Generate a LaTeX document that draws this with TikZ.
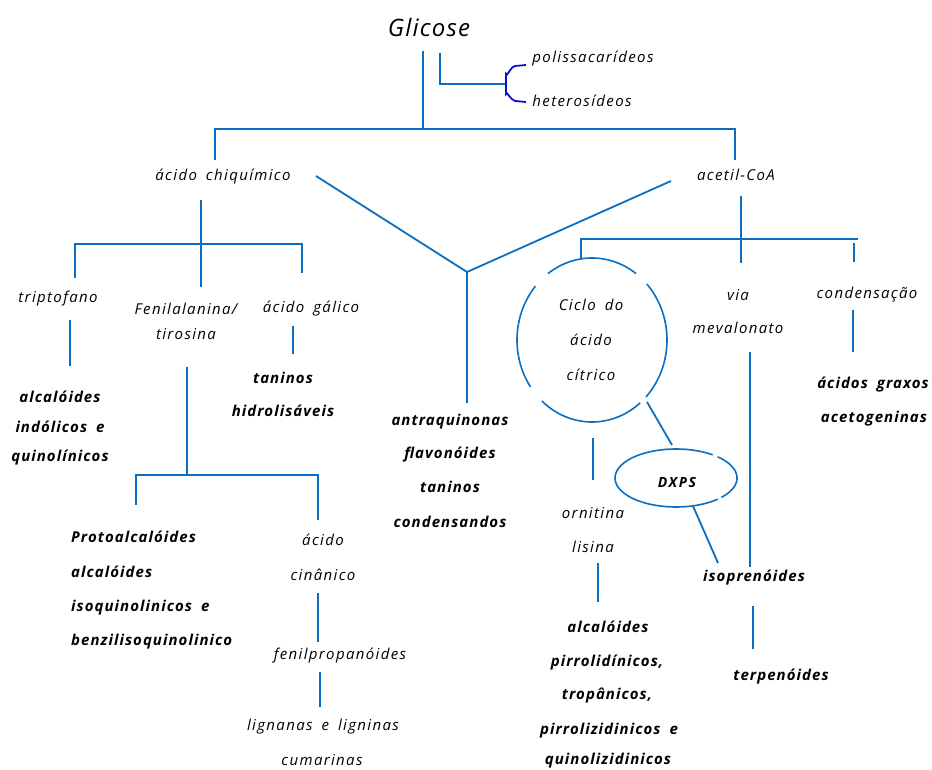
\documentclass[tikz,border=0pt]{standalone}
\usepackage{fontspec}
\setmainfont{Open Sans}
\newfontfamily\hand{Open Sans}[LetterSpace=9]
\newfontfamily\handb{Open Sans}[LetterSpace=7]
\newfontfamily\handg{Open Sans}[LetterSpace=5]
\newfontfamily\handd{Open Sans}[LetterSpace=12]
\usetikzlibrary{shapes.geometric}
\definecolor{ln}{HTML}{0A6FC2}
\definecolor{br}{HTML}{0A10D0}
\newcommand\wsp{\hspace{0.6em}}
\begin{document}
\begin{tikzpicture}[x=1pt,y=-1pt,
 lk/.style={draw=ln,line width=1.8pt},
 tx/.style={font=\hand\fontsize{15}{17}\selectfont\itshape,inner sep=0pt,anchor=mid,yshift=-3pt},
 bt/.style={font=\handb\fontsize{15}{17}\selectfont\bfseries\itshape,inner sep=0pt,anchor=mid,yshift=-3pt},
 btl/.style={bt,anchor=mid west}]
\useasboundingbox (0,0) rectangle (932,770);
% texts
\node[tx,font=\handg\fontsize{24}{28}\selectfont\itshape,yshift=-2pt] (glc) at (429,29) {Glicose};
\node[tx] (pol) at (593,57) {polissacarídeos};
\node[tx] (het) at (582,101) {heterosídeos};
\node[tx] (chq) at (223,175) {ácido\wsp chiquímico};
\node[tx] (acc) at (736,175) {acetil-CoA};
\node[tx] (trp) at (58,297) {triptofano};
\node[tx] (fen) at (186,309) {Fenilalanina/};
\node[tx] (tir) at (186,334) {tirosina};
\node[tx] (gal) at (311,307) {ácido\wsp gálico};
\node[bt] (ai1) at (60,397) {alcalóides};
\node[bt] (ai2) at (60,427) {indólicos\wsp e};
\node[bt] (ai3) at (60,456) {quinolínicos};
\node[bt] (tn1) at (283,378) {taninos};
\node[bt] (tn2) at (283,411) {hidrolisáveis};
\node[bt] (an1) at (450,420) {antraquinonas};
\node[bt] (an2) at (450,453) {flavonóides};
\node[bt] (an3) at (450,487) {taninos};
\node[bt] (an4) at (450,522) {condensandos};
\node[tx] (cc1) at (591,305) {Ciclo\wsp do};
\node[tx] (cc2) at (591,340) {ácido};
\node[tx] (cc3) at (591,375) {cítrico};
\node[tx] (via) at (738,295) {via};
\node[tx] (mev) at (738,328) {mevalonato};
\node[tx] (cnd) at (867,293) {condensação};
\node[bt] (ag1) at (873,383) {ácidos\wsp graxos};
\node[bt] (ag2) at (874,417) {acetogeninas};
\node[bt,font=\handd\fontsize{14}{16}\selectfont\bfseries\itshape] (dxt) at (677,482) {DXPS};
\node[tx] (orn) at (593,513) {ornitina};
\node[tx] (lis) at (593,547) {lisina};
\node[bt] (iso) at (754,576) {isoprenóides};
\node[bt] (ter) at (781,675) {terpenóides};
\node[bt] (ap1) at (608,627) {alcalóides};
\node[bt] (ap2) at (607,661) {pirrolidínicos,};
\node[bt] (ap3) at (607,694) {tropânicos,};
\node[bt] (ap4) at (609,729) {pirrolizidinicos\wsp e};
\node[bt] (ap5) at (608,759) {quinolizidinicos};
\node[btl] (pa1) at (71,537) {Protoalcalóides};
\node[btl] (pa2) at (71,572) {alcalóides};
\node[btl] (pa3) at (71,606) {isoquinolinicos\wsp e};
\node[btl] (pa4) at (71,640) {benzilisoquinolinico};
\node[tx] (cn1) at (323,540) {ácido};
\node[tx] (cn2) at (323,575) {cinânico};
\node[tx] (fpr) at (340,654) {fenilpropanóides};
\node[tx] (lig) at (323,725) {lignanas\wsp e\wsp ligninas};
\node[tx] (cum) at (322,760) {cumarinas};
% connectors
\draw[lk] (423,51) coordinate (g1) -- (423,129) coordinate (g2);
\draw[lk] (440,53) coordinate (s1) -- (440,84) -- (506,84) coordinate (s2);
\draw[draw=br,line width=1.8pt] (526,65) coordinate (b1) -- (515,66) to[out=190,in=-90] (506,74) -- (506,94) to[out=90,in=170] (515,101) -- (526,102) coordinate (b2);
\draw[lk] (215,160) coordinate (h1) -- (215,129) -- (735,129) -- (735,160) coordinate (h2);
\draw[lk] (201,200) coordinate (c1) -- (201,287) coordinate (c2);
\draw[lk] (75,278) coordinate (c3) -- (75,244) -- (302,244) -- (302,273) coordinate (c4);
\draw[lk] (70,320) coordinate (t1) -- (70,366) coordinate (t2);
\draw[lk] (187,367) coordinate (f1) -- (187,475) coordinate (f2);
\draw[lk] (136,505) coordinate (f3) -- (136,475) -- (318,475) -- (318,520) coordinate (f4);
\draw[lk] (293,326) coordinate (q1) -- (293,354) coordinate (q2);
\draw[lk] (318,593) coordinate (k1) -- (318,642) coordinate (k2);
\draw[lk] (320,672) coordinate (k3) -- (320,707) coordinate (k4);
\draw[lk] (316,176) coordinate (v1) -- (467,272) coordinate (v0) -- (671,181) coordinate (v2);
\draw[lk] (v0) -- (467,403) coordinate (v3);
\draw[lk] (741,196) coordinate (a1) -- (741,263) coordinate (a2);
\draw[lk] (581,258) coordinate (a3) -- (581,239) -- (858,239) coordinate (a4);
\draw[lk] (854,243) coordinate (a5) -- (854,262) coordinate (a6);
\draw[lk] (853,310) coordinate (d1) -- (853,352) coordinate (d2);
\draw[lk] (750,352) coordinate (m1) -- (750,567) coordinate (m2);
\draw[lk] (753,606) coordinate (i1) -- (753,649) coordinate (i2);
\draw[lk] (593,438) coordinate (o1) -- (593,480) coordinate (o2);
\draw[lk] (598,563) coordinate (o3) -- (598,602) coordinate (o4);
\draw[lk] (647,402) coordinate (x1) -- (672,445) coordinate (x2);
\draw[lk] (693,506) coordinate (x3) -- (718,563) coordinate (x4);
% circle with gaps
\foreach \a/\b in {54/126,139/215,228/310,316/403}
  \draw[lk,line width=1.6pt] plot[domain=\a:\b,samples=40,smooth] ({592+75*cos(\x)},{340-82*sin(\x)});
% DXPS ellipse with small gaps
\node[ellipse,minimum width=122pt,minimum height=58pt,inner sep=0pt] (dxps) at (676,478) {};
\foreach \a/\b in {53/313,318/407}
  \draw[lk,line width=1.6pt] plot[domain=\a:\b,samples=50,smooth] ({676+61*cos(\x)},{478-29*sin(\x)});
\end{tikzpicture}
\end{document}
